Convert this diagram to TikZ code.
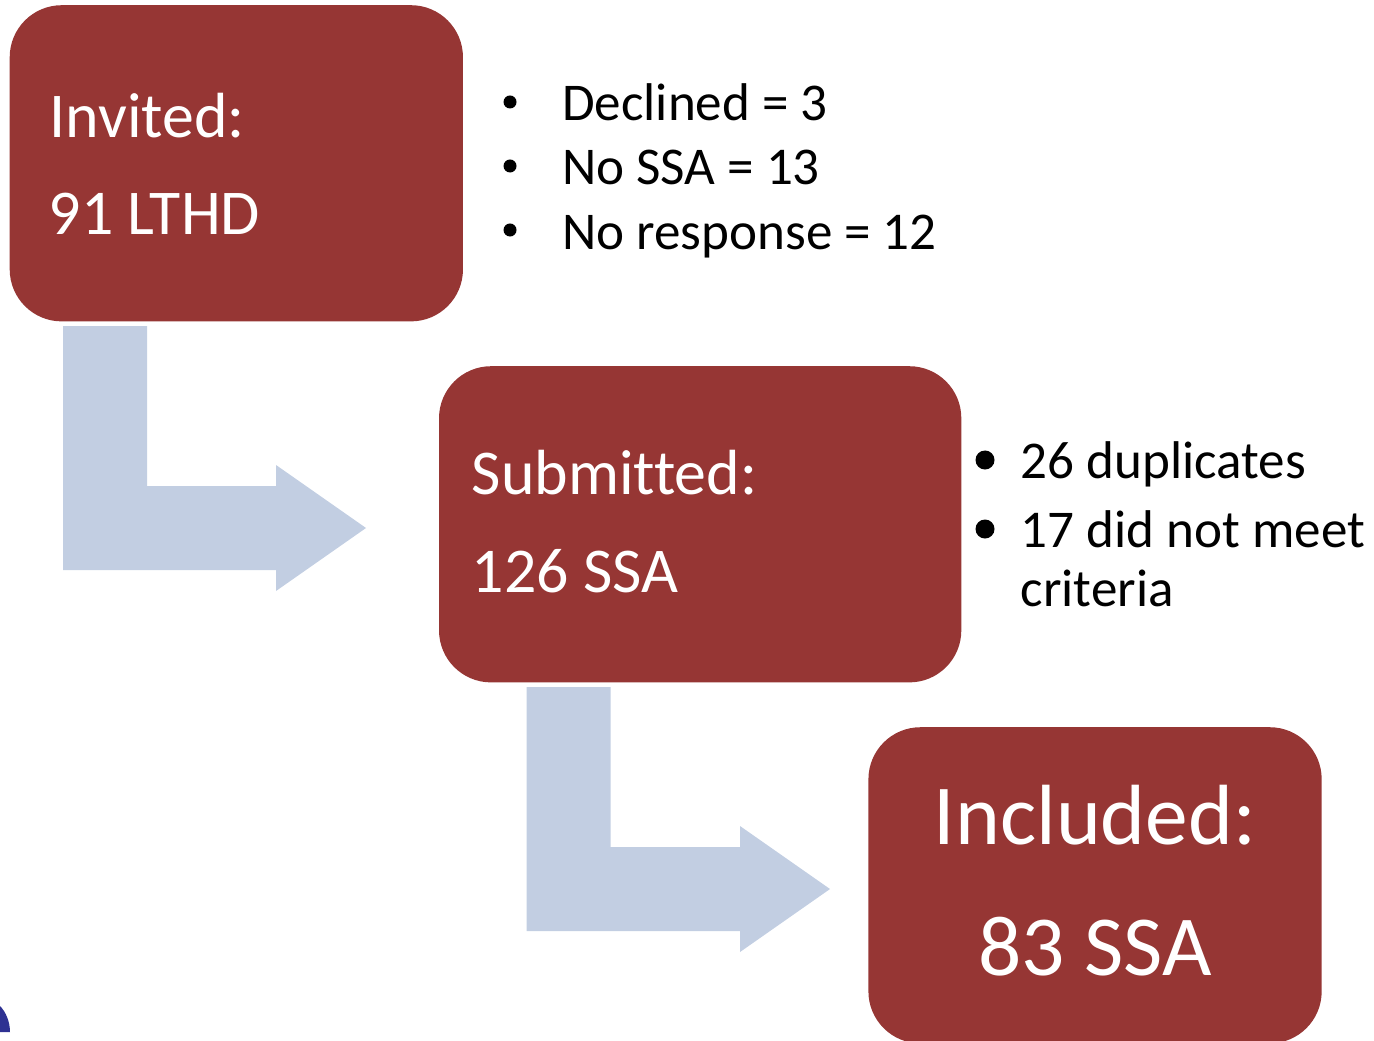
\documentclass[tikz,border=0pt]{standalone}
\usepackage{fontspec}
\setmainfont{Carlito}[Ligatures=NoCommon]
\definecolor{boxred}{RGB}{150,54,52}
\definecolor{arrowblue}{RGB}{194,206,226}
\definecolor{logoblue}{RGB}{46,49,146}
\tikzset{
 x=0.01cm,y=-0.01cm,
 redbox/.style={fill=boxred,draw=none},
 bent/.style={fill=arrowblue,draw=none},
 boxtxt/.style={text=white,anchor=base west,inner sep=0pt,font=\fontsize{18.15}{18.15}\selectfont},
 bigtxt/.style={text=white,anchor=base,inner sep=0pt,font=\fontsize{24.3}{24.3}\selectfont},
 listtxt/.style={text=black,anchor=base west,inner sep=0pt,font=\fontsize{15.1}{15.1}\selectfont},
 dot/.style={circle,fill=black,draw=none,inner sep=0pt},
}
\begin{document}
\begin{tikzpicture}
\useasboundingbox (0,0) rectangle (1374,1040);
\fill[logoblue] (0,1006) .. controls (6,1012) and (10,1022) .. (10,1032) -- (0,1032) -- cycle;
\node[redbox,inner sep=0pt,minimum width=4.53cm,minimum height=3.16cm,rounded corners=0.52cm,anchor=north west] (invited) at (9,4.5) {};
\node[redbox,inner sep=0pt,minimum width=5.22cm,minimum height=3.16cm,rounded corners=0.52cm,anchor=north west] (submitted) at (438.3,365.5) {};
\node[redbox,inner sep=0pt,minimum width=4.53cm,minimum height=3.16cm,rounded corners=0.52cm,anchor=north west] (included) at (867.7,726.5) {};
\fill[bent] (63,326) -- (147,326) -- (147,486) -- (276,486) -- (276,465) -- (366,528) -- (276,591) -- (276,570) -- (63,570) -- cycle;
\fill[bent] (526.7,687) -- (610.7,687) -- (610.7,847) -- (740,847) -- (740,826) -- (830,889) -- (740,952) -- (740,931) -- (526.7,931) -- cycle;
\node[boxtxt] (t1) at (49,138) {Invited:};
\node[boxtxt] (t2) at (48,235) {91 LTHD};
\node[boxtxt] (t3) at (471,494) {Submitted:};
\node[boxtxt] (t4) at (471,592) {126 SSA};
\node[bigtxt] (t5) at (1095,844.5) {Included:};
\node[bigtxt] (t6) at (1095,975) {83 SSA};
\node[dot,minimum size=0.13cm] (b1) at (510,102) {};
\node[dot,minimum size=0.13cm] (b2) at (510,166) {};
\node[dot,minimum size=0.13cm] (b3) at (510,230) {};
\node[listtxt] (l1) at (561.5,120.5) {Declined = 3};
\node[listtxt] (l2) at (561.5,184.5) {No SSA = 13};
\node[listtxt] (l3) at (561.5,249.5) {No response = 12};
\node[dot,minimum size=0.19cm] (b4) at (985,460) {};
\node[dot,minimum size=0.19cm] (b5) at (985,529) {};
\node[listtxt] (l4) at (1020,478) {26 duplicates};
\node[listtxt] (l5) at (1020,547) {17 did not meet};
\node[listtxt] (l6) at (1020,606) {criteria};
\end{tikzpicture}
\end{document}
